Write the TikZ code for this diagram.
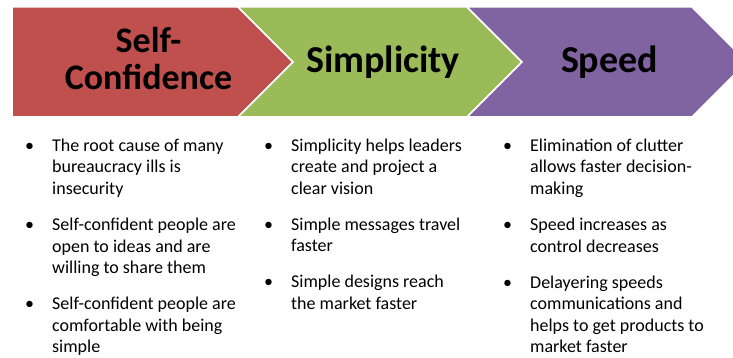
\documentclass[tikz,border=0pt]{standalone}
\usepackage{fontspec}
\setmainfont{Carlito}
\definecolor{chevred}{HTML}{C0504D}
\definecolor{chevgreen}{HTML}{9BBB59}
\definecolor{chevpurple}{HTML}{8064A2}
\newcommand{\itembullet}{\llap{\textbullet\hspace{18pt}}}

\begin{document}
\begin{tikzpicture}[x=1pt,y=-1pt]
	\tikzstyle{arrowbox}=[draw=white,line width=1.5pt]
	\tikzstyle{heading}=[font=\fontsize{38}{39}\selectfont\bfseries,align=center,inner sep=0pt]
	\tikzstyle{points}=[font=\fontsize{18}{21.6}\selectfont,align=left,anchor=north west,inner sep=0pt]
	\path[use as bounding box,clip] (0,0) rectangle (733,358);
	% the three chevrons
	\path[arrowbox,fill=chevred] (12,7) -- (238,7) -- (293,62) -- (238,117) -- (12,117) -- cycle;
	\path[arrowbox,fill=chevgreen] (238,7) -- (467,7) -- (522,62) -- (467,117) -- (238,117) -- (293,62) -- cycle;
	\path[arrowbox,fill=chevpurple] (467,7) -- (692,7) -- (747,62) -- (692,117) -- (467,117) -- (522,62) -- cycle;
	\node[heading,font=\fontsize{36}{37}\selectfont\bfseries] (selfconf) at (148.5,58.5) {Self-\\Confidence};
	\node[heading,anchor=base] (simplicity) at (383,73) {Simplicity};
	\node[heading,anchor=base] (speed) at (609.5,73) {Speed};
	% bullet lists below each chevron
	\node[points] (selfconfpts) at (52,138.5) {\itembullet The root cause of many\\bureaucracy ills is\\insecurity\\[14.4pt]
		\itembullet Self-confident people are\\open to ideas and are\\willing to share them\\[14.4pt]
		\itembullet Self-confident people are\\comfortable with being\\simple};
	\node[points] (simplicitypts) at (291,138.5) {\itembullet Simplicity helps leaders\\create and project a\\clear vision\\[14.4pt]
		\itembullet Simple messages travel\\faster\\[14.4pt]
		\itembullet Simple designs reach\\the market faster};
	\node[points] (speedpts) at (530,138.5) {\itembullet Elimination of clutter\\allows faster decision-\\making\\[14.4pt]
		\itembullet Speed increases as\\control decreases\\[14.4pt]
		\itembullet Delayering speeds\\communications and\\helps to get products to\\market faster};
\end{tikzpicture}
\end{document}
